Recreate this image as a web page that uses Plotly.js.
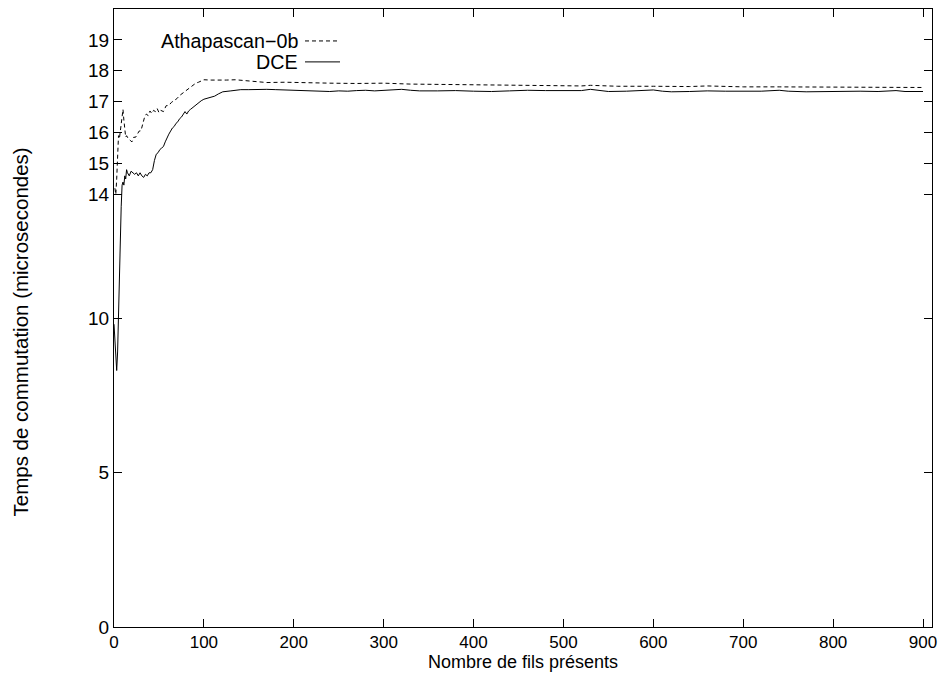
<!DOCTYPE html>
<html>
<head>
<meta charset="utf-8">
<script src="https://cdn.plot.ly/plotly-3.0.1.min.js"></script>
<style>html,body{margin:0;padding:0;background:#fff;}#chart{width:938px;height:673px;}</style>
</head>
<body>
<div id="chart"></div>
<script>
// Athapascan-0b (dashed)
var athaX = [1,2,3,4,5,6,7,8,9,10,11,12,13,14,16,18,20,22,24,26,28,30,32,34,36,38,40,42,44,46,48,50,52,55,58,61,64,67,70,73,76,79,82,85,88,91,94,97,100,108,116,125,135,150,170,190,210,240,270,300,330,360,400,440,480,520,530,560,600,640,660,700,740,780,820,860,900];
var athaY = [14.2,14.0,14.5,15.2,15.9,15.8,16.1,16.4,16.7,16.75,16.4,16.0,15.85,15.9,15.8,15.75,15.7,15.85,15.85,15.95,16.05,16.06,16.3,16.5,16.6,16.55,16.7,16.62,16.72,16.68,16.78,16.65,16.72,16.68,16.87,16.88,16.98,17.04,17.1,17.2,17.27,17.35,17.42,17.48,17.54,17.6,17.63,17.67,17.71,17.7,17.69,17.7,17.71,17.68,17.62,17.63,17.61,17.6,17.59,17.6,17.57,17.56,17.54,17.53,17.52,17.51,17.53,17.5,17.5,17.49,17.51,17.48,17.48,17.47,17.47,17.47,17.46];
// DCE (solid)
var dceX = [0,1,2,3,4,5,6,7,8,9,10,11,12,13,14,15,17,19,21,23,25,27,29,31,33,35,37,39,41,43,45,47,49,51,53,55,57,59,61,63,65,67,69,71,73,75,77,79,81,83,85,87,89,91,94,97,100,104,108,112,116,121,130,141,150,160,170,180,190,200,210,220,230,240,250,260,270,280,290,300,310,320,330,340,360,380,400,420,440,460,480,500,520,530,540,550,570,590,600,610,620,640,660,680,700,720,740,750,770,790,810,830,850,870,880,900];
var dceY = [9.8,9.2,8.7,8.3,8.9,10.2,11.5,12.6,13.6,14.3,14.4,14.3,14.6,14.5,14.8,14.7,14.6,14.75,14.7,14.65,14.7,14.6,14.7,14.6,14.55,14.65,14.6,14.7,14.7,14.8,15.1,15.3,15.35,15.45,15.5,15.55,15.7,15.85,15.95,16.05,16.15,16.2,16.3,16.35,16.45,16.5,16.6,16.68,16.6,16.7,16.75,16.8,16.85,16.87,16.95,17.03,17.08,17.11,17.13,17.18,17.25,17.32,17.35,17.39,17.39,17.4,17.4,17.39,17.38,17.37,17.35,17.33,17.34,17.33,17.35,17.34,17.36,17.37,17.35,17.36,17.38,17.4,17.37,17.35,17.35,17.36,17.34,17.33,17.35,17.37,17.36,17.35,17.36,17.4,17.36,17.33,17.34,17.36,17.38,17.34,17.32,17.33,17.35,17.34,17.33,17.34,17.37,17.34,17.32,17.33,17.35,17.34,17.33,17.36,17.33,17.33];

var seriesNames = ["Athapascan\u22120b", "DCE"];
var xTicks = [0,100,200,300,400,500,600,700,800,900];
var yTicks = [0,5,10,14,15,16,17,18,19];
var xTitle = "Nombre de fils présents";
var yTitle = "Temps de commutation (microsecondes)";

var FONT = "Liberation Sans, Arial, Helvetica, sans-serif";

var traces = [
  {x: athaX, y: athaY, type: "scatter", mode: "lines", name: seriesNames[0],
   line: {color: "#000", width: 1, dash: "4px,3px"}, showlegend: false},
  {x: dceX, y: dceY, type: "scatter", mode: "lines", name: seriesNames[1],
   line: {color: "#000", width: 1}, showlegend: false}
];

var axisCommon = {
  showline: true, mirror: "ticks", linecolor: "#000", linewidth: 1,
  ticks: "inside", ticklen: 8, tickcolor: "#000", tickwidth: 1,
  showgrid: false, zeroline: false, ticklabeloverflow: "allow",
  tickfont: {family: FONT, size: 19, color: "#000"}
};

var layout = {
  width: 938, height: 673,
  margin: {l: 114, r: 6, t: 9, b: 46},
  paper_bgcolor: "#fff", plot_bgcolor: "#fff",
  font: {family: FONT, size: 19, color: "#000"},
  xaxis: Object.assign({}, axisCommon, {
    range: [0, 910], tickvals: xTicks, ticktext: xTicks.map(String),
    tickfont: {family: FONT, size: 17, color: "#000"}
  }),
  yaxis: Object.assign({}, axisCommon, {
    range: [0, 20], tickvals: yTicks, ticktext: yTicks.map(String)
  }),
  annotations: [
    {xref: "paper", yref: "paper", x: 0.5, y: -0.0745, xanchor: "center", yanchor: "bottom",
     text: xTitle, showarrow: false, font: {family: FONT, size: 18}, borderpad: 0},
    {xref: "paper", yref: "paper", x: -0.1149, y: 0.4766, xanchor: "center", yanchor: "middle",
     text: yTitle, textangle: -90, showarrow: false, font: {family: FONT, size: 20.5}},
    {xref: "paper", yref: "paper", x: 0.2274, y: 0.9483, xanchor: "right", yanchor: "middle",
     text: seriesNames[0], showarrow: false, font: {family: FONT, size: 19.7}},
    {xref: "paper", yref: "paper", x: 0.2274, y: 0.9144, xanchor: "right", yanchor: "middle",
     text: seriesNames[1], showarrow: false, font: {family: FONT, size: 19.7}}
  ],
  shapes: [
    {type: "line", xref: "paper", yref: "paper", x0: 0.2335, x1: 0.2763, y0: 0.9483, y1: 0.9483,
     line: {color: "#000", width: 1, dash: "4px,3px"}},
    {type: "line", xref: "paper", yref: "paper", x0: 0.2335, x1: 0.2763, y0: 0.9144, y1: 0.9144,
     line: {color: "#000", width: 1}}
  ]
};

Plotly.newPlot("chart", traces, layout, {displayModeBar: false, staticPlot: true});
</script>
</body>
</html>
